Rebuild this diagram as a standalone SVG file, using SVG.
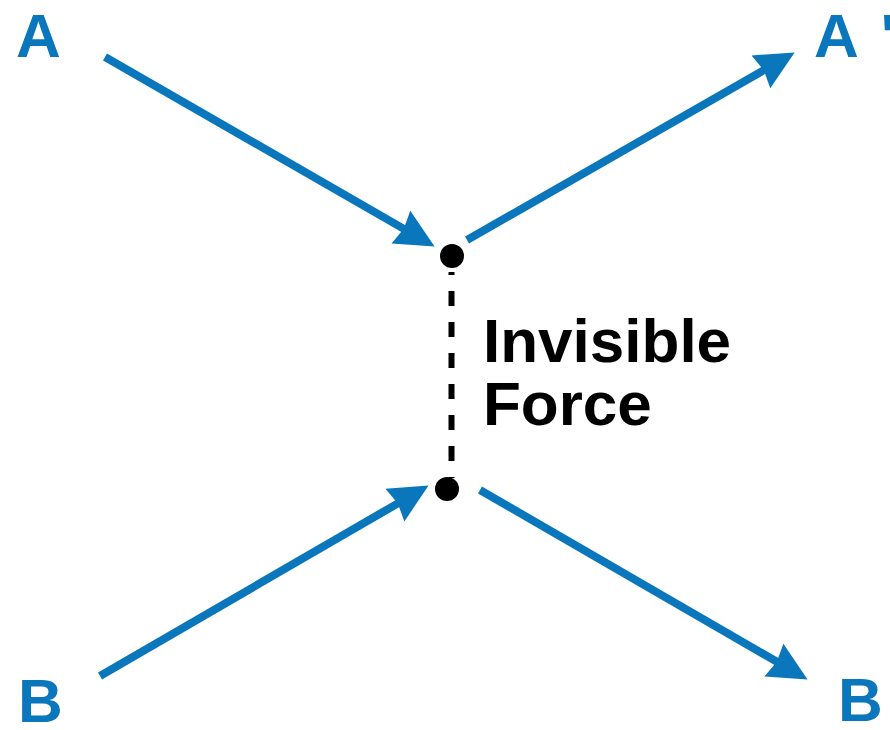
<svg xmlns="http://www.w3.org/2000/svg" width="890" height="730" viewBox="0 0 890 730">
<style>
.lbl{font-family:"Liberation Sans",Arial,sans-serif;font-weight:bold;font-size:62px;fill:#0a77bd}
.txt{font-family:"Liberation Sans",Arial,sans-serif;font-weight:bold;font-size:62px;fill:#000}
.arr{stroke:#0a77bd;stroke-width:8;fill:none;marker-end:url(#head)}
</style>
<defs>
<marker id="head" markerUnits="userSpaceOnUse" markerWidth="40" markerHeight="40" viewBox="0 0 36 34" refX="8" refY="17" orient="auto">
<path d="M0,0 L35,17 L0,34 L3,17 z" fill="#0a77bd"/>
</marker>
</defs>
<rect width="890" height="730" fill="#fff"/>
<g id="nodeA"><text class="lbl" x="16" y="57">A</text></g>
<g id="nodeA2"><text class="lbl" x="814" y="57">A<tspan dx="22">'</tspan></text></g>
<g id="nodeB"><text class="lbl" x="18" y="722">B</text></g>
<g id="nodeB2"><text class="lbl" x="838" y="721">B</text></g>
<g id="vertexTop"><circle cx="452" cy="256" r="12" fill="#000"/></g>
<g id="vertexBottom"><circle cx="447" cy="489" r="12" fill="#000"/></g>
<g id="label"><text class="txt" x="483" y="362">Invisible</text><text class="txt" x="483" y="425">Force</text></g>
<g id="connectors">
<line class="arr" x1="105" y1="57" x2="408.6" y2="231.6"/>
<line class="arr" x1="467" y1="240" x2="768.6" y2="67.4"/>
<line class="arr" x1="100" y1="676" x2="402.6" y2="500.6"/>
<line class="arr" x1="480" y1="490" x2="781.6" y2="664.5"/>
<line x1="451.5" y1="272" x2="451.5" y2="478" stroke="#000" stroke-width="6" stroke-dasharray="3 16 15 16 15 16 15 16 15 16 15 16 15 16 15 16"/>
</g>
</svg>
